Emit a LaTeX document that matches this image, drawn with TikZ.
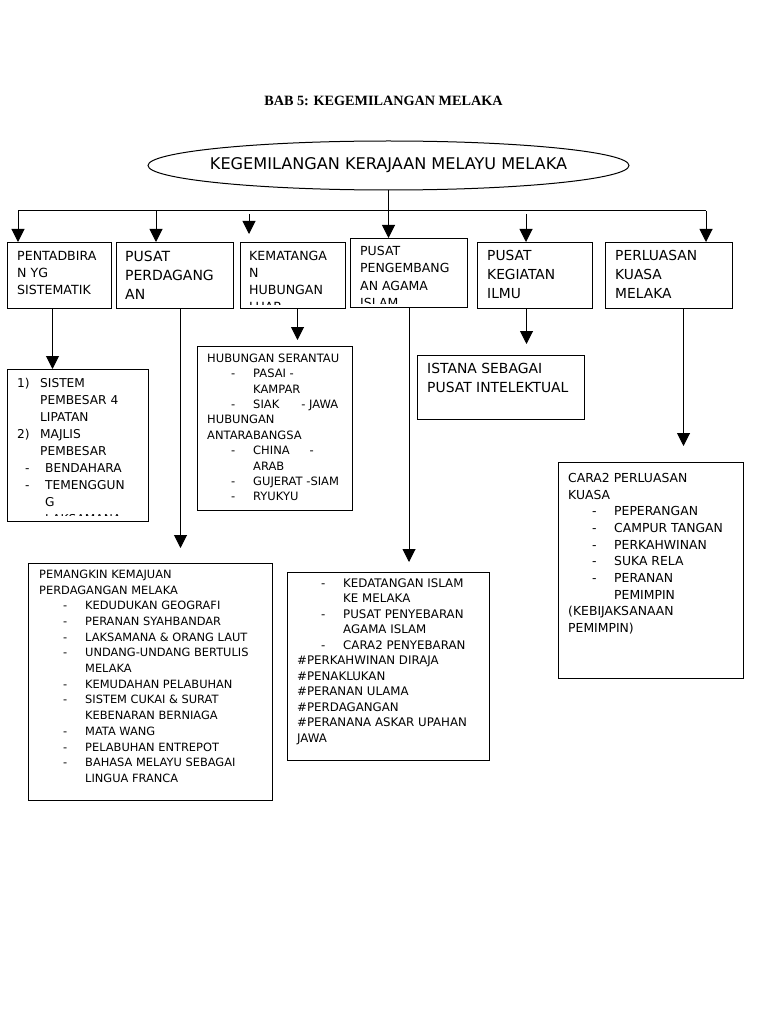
\documentclass[tikz,border=0pt]{standalone}
\usepackage{fontspec}
\setmainfont{DejaVu Sans}
\newfontfamily\judulfont{Liberation Serif}
\usetikzlibrary{arrows.meta, shapes.geometric, positioning}
\newcommand{\ukuran}[2]{\fontsize{#1}{#2}\selectfont}
\newcommand{\butir}{\hspace*{24pt}\makebox[22pt][l]{-}}
\newcommand{\sambung}{\hspace*{46pt}}

\begin{document}
\begin{tikzpicture}[
    x=1pt, y=-1pt,
    kotak/.style={rectangle, draw, line width=1pt, inner sep=0pt, anchor=north west},
    teks/.style={anchor=north west, inner sep=0pt, align=left},
    panah/.style={-{Triangle[width=13pt,length=13pt]}, line width=1pt},
    garis/.style={line width=1pt}
]
\useasboundingbox[fill=white] (0,0) rectangle (768,1024);

% Judul
\node[anchor=base, font=\judulfont\bfseries\ukuran{14.2}{17}] (judul) at (383.5,106) {BAB 5: KEGEMILANGAN MELAKA};

% Elips utama
\node[ellipse, draw, line width=1pt, inner sep=0pt, minimum width=481pt, minimum height=49pt] (utama) at (388.5,165.5) {};
\node[font=\ukuran{16.1}{18}, inner sep=0pt] (utamaisi) at (utama.center) {KEGEMILANGAN KERAJAAN MELAYU MELAKA};

% Kotak peringkat pertama
\node[kotak, minimum width=104pt, minimum height=66pt] (tadbir) at (7,242) {};
\node[kotak, minimum width=117pt, minimum height=66pt] (dagang) at (116,242) {};
\node[kotak, minimum width=105pt, minimum height=66pt] (hubung) at (240,242) {};
\node[kotak, minimum width=117pt, minimum height=69pt] (islam) at (350,238) {};
\node[kotak, minimum width=115pt, minimum height=66pt] (ilmu) at (477,242) {};
\node[kotak, minimum width=127pt, minimum height=66pt] (luas) at (605,242) {};

\node[teks, font=\ukuran{12.6}{17}] (tadbirisi) at ([xshift=10pt, yshift=-8.8pt]tadbir.north west) {PENTADBIRA\\N YG\\SISTEMATIK};
\node[teks, font=\ukuran{14}{19}] (dagangisi) at ([xshift=9pt, yshift=-8.8pt]dagang.north west) {PUSAT\\PERDAGANG\\AN};
\begin{scope}
  \clip (hubung.north west) rectangle ([yshift=4.5pt]hubung.south east);
  \node[teks, font=\ukuran{12.6}{17}] (hubungisi) at ([xshift=9pt, yshift=-8.8pt]hubung.north west) {KEMATANGA\\N\\HUBUNGAN\\LUAR};
\end{scope}
\begin{scope}
  \clip (islam.north west) rectangle ([yshift=5pt]islam.south east);
  \node[teks, font=\ukuran{12.5}{17.5}] (islamisi) at ([xshift=10pt, yshift=-7.9pt]islam.north west) {PUSAT\\PENGEMBANG\\AN AGAMA\\ISLAM};
\end{scope}
\node[teks, font=\ukuran{13.8}{19}] (ilmuisi) at ([xshift=10pt, yshift=-7.9pt]ilmu.north west) {PUSAT\\KEGIATAN\\ILMU};
\node[teks, font=\ukuran{13.8}{19}] (luasisi) at ([xshift=10pt, yshift=-7.9pt]luas.north west) {PERLUASAN\\KUASA\\MELAKA};

% Kotak peringkat kedua
\node[kotak, minimum width=141pt, minimum height=152pt] (sistem) at (7,369) {};
\node[kotak, minimum width=244pt, minimum height=237pt] (pemangkin) at (28,563) {};
\node[kotak, minimum width=155pt, minimum height=164pt] (serantau) at (197,346) {};
\node[kotak, minimum width=202pt, minimum height=188pt] (sebaran) at (287,572) {};
\node[kotak, minimum width=167pt, minimum height=64pt] (istana) at (417,355) {};
\node[kotak, minimum width=185pt, minimum height=216pt] (cara) at (558,462) {};

\begin{scope}
  \clip (sistem.north west) rectangle ([yshift=7pt]sistem.south east);
  \node[teks, font=\ukuran{12.2}{17}] (sistemisi) at ([xshift=10pt, yshift=-9pt]sistem.north west) {\makebox[23pt][l]{1)}SISTEM\\
    \hspace*{23pt}PEMBESAR 4\\
    \hspace*{23pt}LIPATAN\\
    \makebox[23pt][l]{2)}MAJLIS\\
    \hspace*{23pt}PEMBESAR\\
    \hspace*{8pt}\makebox[20pt][l]{-}BENDAHARA\\
    \hspace*{8pt}\makebox[20pt][l]{-}TEMENGGUN\\
    \hspace*{28pt}G\\
    \hspace*{8pt}\makebox[20pt][l]{-}LAKSAMANA};
\end{scope}

\node[teks, font=\ukuran{11.4}{15.7}] (pemangkinisi) at ([xshift=11pt, yshift=-6.7pt]pemangkin.north west) {PEMANGKIN KEMAJUAN\\
    PERDAGANGAN MELAKA\\
    \butir KEDUDUKAN GEOGRAFI\\
    \butir PERANAN SYAHBANDAR\\
    \butir LAKSAMANA \& ORANG LAUT\\
    \butir UNDANG-UNDANG BERTULIS\\
    \sambung MELAKA\\
    \butir KEMUDAHAN PELABUHAN\\
    \butir SISTEM CUKAI \& SURAT\\
    \sambung KEBENARAN BERNIAGA\\
    \butir MATA WANG\\
    \butir PELABUHAN ENTREPOT\\
    \butir BAHASA MELAYU SEBAGAI\\
    \sambung LINGUA FRANCA};

\node[teks, font=\ukuran{11.5}{15.4}] (serantauisi) at ([xshift=10pt, yshift=-7.5pt]serantau.north west) {HUBUNGAN SERANTAU\\
    \butir PASAI -\\
    \sambung KAMPAR\\
    \butir SIAK\hspace{22pt}- JAWA\\
    HUBUNGAN\\
    ANTARABANGSA\\
    \butir CHINA\hspace{20pt}-\\
    \sambung ARAB\\
    \butir GUJERAT -SIAM\\
    \butir RYUKYU};

\node[teks, font=\ukuran{11.8}{15.5}] (sebaranisi) at ([xshift=10pt, yshift=-6.4pt]sebaran.north west) {\butir KEDATANGAN ISLAM\\
    \sambung KE MELAKA\\
    \butir PUSAT PENYEBARAN\\
    \sambung AGAMA ISLAM\\
    \butir CARA2 PENYEBARAN\\
    \#PERKAHWINAN DIRAJA\\
    \#PENAKLUKAN\\
    \#PERANAN ULAMA\\
    \#PERDAGANGAN\\
    \#PERANANA ASKAR UPAHAN\\
    JAWA};

\node[teks, font=\ukuran{13.9}{19}] (istanaisi) at ([xshift=10pt, yshift=-7.9pt]istana.north west) {ISTANA SEBAGAI\\PUSAT INTELEKTUAL};

\node[teks, font=\ukuran{12.4}{16.7}] (caraisi) at ([xshift=10pt, yshift=-10.9pt]cara.north west) {CARA2 PERLUASAN\\
    KUASA\\
    \butir PEPERANGAN\\
    \butir CAMPUR TANGAN\\
    \butir PERKAHWINAN\\
    \butir SUKA RELA\\
    \butir PERANAN\\
    \sambung PEMIMPIN\\
    (KEBIJAKSANAAN\\
    PEMIMPIN)};

% Garis penghubung atas
\coordinate (buskiri) at (18,211);
\coordinate (buskanan) at (706,211);
\coordinate (bus2) at (156,211);
\coordinate (bus3) at (249,214);
\coordinate (bus5) at (526,214);
\draw[garis] (buskiri) -- (buskanan);
\draw[panah] (utama.south) -- (utama.south |- islam.north);
\draw[panah] (buskiri) -- (buskiri |- tadbir.north);
\draw[panah] (bus2) -- (bus2 |- dagang.north);
\draw[panah, shorten >=8pt] (bus3) -- (bus3 |- hubung.north);
\draw[panah] (bus5) -- (bus5 |- ilmu.north);
\draw[panah] (buskanan) -- (buskanan |- luas.north);

% Anak panah ke kotak kedua
\draw[panah] ([xshift=-7pt]tadbir.south) -- ([xshift=-7pt]tadbir.south |- sistem.north);
\draw[panah, shorten >=15pt] ([xshift=5.5pt]dagang.south) -- ([xshift=5.5pt]dagang.south |- pemangkin.north);
\draw[panah, shorten >=6pt] ([xshift=4.5pt]hubung.south) -- ([xshift=4.5pt]hubung.south |- serantau.north);
\draw[panah, shorten >=10pt] (islam.south) -- (islam.south |- sebaran.north);
\draw[panah, shorten >=11pt] ([xshift=-8.5pt]ilmu.south) -- ([xshift=-8.5pt]ilmu.south |- istana.north);
\draw[panah, shorten >=16pt] ([xshift=14.5pt]luas.south) -- ([xshift=14.5pt]luas.south |- cara.north);

\end{tikzpicture}
\end{document}
